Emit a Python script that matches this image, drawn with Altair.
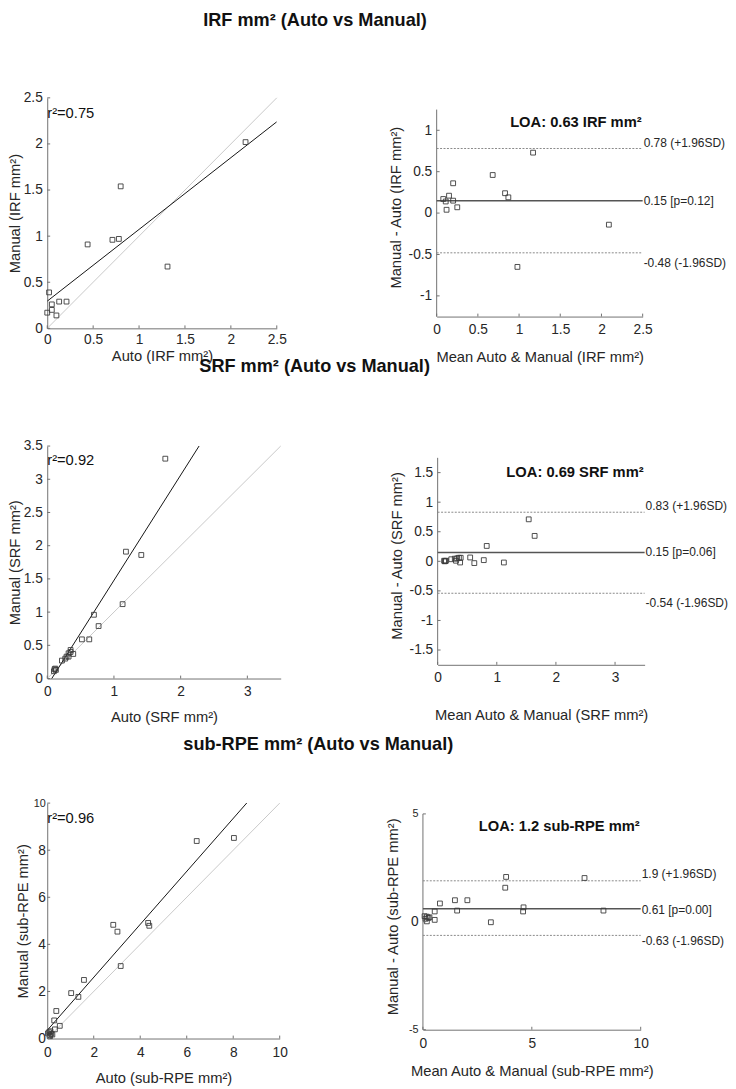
import altair as alt
import pandas as pd

FONT = "Liberation Sans"
TXT = "#262626"
AXC = "#707070"
PT = "#3a3a3a"

# ---------------- data ----------------
# IRF
irf_auto = [2.16, 0.80, 0.44, 0.71, 0.78, 1.31, 0.02, 0.05, 0.13, 0.21, 0.00, 0.05, 0.10]
irf_manual = [2.02, 1.54, 0.91, 0.96, 0.97, 0.67, 0.39, 0.26, 0.29, 0.29, 0.17, 0.20, 0.14]
irf_fit_x = [0.0, 2.5]
irf_fit_y = [0.295, 2.24]
irf_ba_mean = [1.17, 0.68, 0.20, 0.83, 0.87, 0.08, 0.15, 0.20, 0.11, 0.12, 0.25, 2.09, 0.98]
irf_ba_diff = [0.73, 0.46, 0.36, 0.24, 0.19, 0.17, 0.21, 0.15, 0.14, 0.04, 0.07, -0.14, -0.65]
irf_loa = [0.15, 0.78, -0.48]
irf_loa_text = ["0.15 [p=0.12]", "0.78 (+1.96SD)", "-0.48 (-1.96SD)"]

# SRF
srf_auto = [1.77, 1.18, 1.41, 1.13, 0.70, 0.77, 0.52, 0.63, 0.35, 0.39, 0.32, 0.29,
            0.32, 0.22, 0.27, 0.12, 0.13, 0.10, 0.11, 0.35]
srf_manual = [3.31, 1.91, 1.86, 1.12, 0.96, 0.79, 0.59, 0.59, 0.43, 0.37, 0.38, 0.33,
              0.33, 0.27, 0.30, 0.15, 0.13, 0.11, 0.14, 0.40]
srf_fit_x = [0.0, 3.5]
srf_fit_y = [-0.107, 5.44]
srf_ba_mean = [1.54, 1.64, 0.83, 0.55, 0.78, 0.62, 1.12, 0.39, 0.38, 0.23, 0.29, 0.33,
               0.36, 0.31, 0.11, 0.12, 0.14, 0.13]
srf_ba_diff = [0.71, 0.43, 0.26, 0.065, 0.02, -0.03, -0.02, 0.06, -0.02, 0.035, 0.045, 0.05,
               0.06, 0.01, 0.01, 0.0, 0.01, 0.005]
srf_loa = [0.15, 0.83, -0.54]
srf_loa_text = ["0.15 [p=0.06]", "0.83 (+1.96SD)", "-0.54 (-1.96SD)"]

# sub-RPE
rpe_auto = [8.03, 6.43, 4.34, 4.39, 2.84, 3.02, 3.16, 1.58, 1.03, 1.34, 0.39, 0.30, 0.54,
            0.33, 0.14, 0.03, 0.10, 0.17, 0.22, 0.08, 0.12]
rpe_manual = [8.52, 8.39, 4.91, 4.79, 4.83, 4.54, 3.08, 2.49, 1.93, 1.77, 1.17, 0.77, 0.54,
              0.39, 0.31, 0.22, 0.15, 0.20, 0.17, 0.27, 0.10]
rpe_fit_x = [0.0, 10.0]
rpe_fit_y = [0.35, 11.6]
rpe_ba_mean = [7.42, 3.82, 3.78, 1.47, 2.04, 0.78, 1.57, 0.54, 4.62, 4.60, 8.29, 3.12, 0.54,
               0.075, 0.18, 0.25, 0.12, 0.18, 0.30]
rpe_ba_diff = [2.03, 2.08, 1.58, 1.00, 1.00, 0.85, 0.52, 0.48, 0.67, 0.48, 0.52, -0.02, 0.09,
               0.26, 0.24, 0.18, 0.14, 0.02, 0.21]
rpe_loa = [0.61, 1.9, -0.63]
rpe_loa_text = ["0.61 [p=0.00]", "1.9 (+1.96SD)", "-0.63 (-1.96SD)"]

# axes ticks
irf_ticks = [0, 0.5, 1, 1.5, 2, 2.5]
irf_ba_yticks = [-1, -0.5, 0, 0.5, 1]
srf_xticks = [0, 1, 2, 3]
srf_yticks = [0, 0.5, 1, 1.5, 2, 2.5, 3, 3.5]
srf_ba_yticks = [-1.5, -1, -0.5, 0, 0.5, 1, 1.5]
rpe_ticks = [0, 2, 4, 6, 8, 10]
rpe_ba_xticks = [0, 5, 10]
rpe_ba_yticks = [-5, 0, 5]

TICK = 3


def make_axis(values, title, lp, tp, x_axis, small=None, domain=True):
    kw = dict(values=values, title=title, labelExpr="datum.value + ''", labelPadding=lp,
              titlePadding=tp, ticks=False, grid=False, labelOverlap=False, domain=domain,
              domainColor=AXC, domainWidth=1, labelFont=FONT, labelColor=TXT,
              titleFont=FONT, titleFontSize=15, titleFontWeight="normal", titleColor=TXT)
    if x_axis:
        kw["labelFlush"] = False
    if small is not None:
        kw["labelFontSize"] = {"condition": {"test": small, "value": 11}, "value": 14}
    else:
        kw["labelFontSize"] = 14
    return alt.Axis(**kw)


def tick_layers(X, Y, xt, yt, h):
    tx = alt.Chart(pd.DataFrame({"x": xt})).mark_rule(color=AXC, strokeWidth=1).encode(
        x=X, y=alt.value(h), y2=alt.value(h - TICK))
    ty = alt.Chart(pd.DataFrame({"y": yt})).mark_rule(color=AXC, strokeWidth=1).encode(
        y=Y, x=alt.value(0), x2=alt.value(TICK))
    return [tx, ty]


def left_panel(auto, manual, fit_x, fit_y, dom, xt, yt, xtitle, ytitle, r2, st):
    w, h = st["w"], st["h"]
    X = alt.X("x:Q", scale=alt.Scale(domain=dom, nice=False, zero=False),
              axis=make_axis(xt, xtitle, st["xlp"], st["xtp"], True))
    Y = alt.Y("y:Q", scale=alt.Scale(domain=dom, nice=False, zero=False),
              axis=make_axis(yt, ytitle, st["ylp"], st["ytp"], False, st.get("ysmall")))
    ident = alt.Chart(pd.DataFrame({"x": dom, "y": dom})).mark_line(
        color="#c8c8c8", strokeWidth=1).encode(x=X, y=Y)
    fit = alt.Chart(pd.DataFrame({"x": fit_x, "y": fit_y})).mark_line(
        color="#111111", strokeWidth=1, clip=True).encode(x=X, y=Y)
    pts = alt.Chart(pd.DataFrame({"x": auto, "y": manual})).mark_point(
        shape="square", size=24, filled=False, color=PT, strokeWidth=0.9, opacity=1).encode(x=X, y=Y)
    txt = alt.Chart(pd.DataFrame({"t": [r2]})).mark_text(
        align="left", baseline="middle", font=FONT, fontSize=15, color="#111111").encode(
        x=alt.value(0), y=alt.value(st["r2y"]), text="t:N")
    layers = [ident, fit, pts] + tick_layers(X, Y, xt, yt, h) + [txt]
    if st.get("bottom"):
        layers.append(alt.Chart(pd.DataFrame({"t": [0]})).mark_rule(opacity=0).encode(
            x=alt.value(0), y=alt.value(h), y2=alt.value(h + st["bottom"])))
    return alt.layer(*layers).properties(width=w, height=h)


def right_panel(mean, diff, loa, loa_text, loa_title, xdom, ydom, xt, yt, xtitle, ytitle, st):
    w, h = st["w"], st["h"]
    X = alt.X("x:Q", scale=alt.Scale(domain=xdom, nice=False, zero=False),
              axis=make_axis(xt, xtitle, st["xlp"], st["xtp"], True))
    # the y scale reaches a little above the drawn axis line (as in the reference)
    Y = alt.Y("y:Q", scale=alt.Scale(domain=[ydom[0], ydom[1] + st["ext"]], nice=False, zero=False),
              axis=make_axis(yt, ytitle, st["ylp"], st["ytp"], False, st.get("ysmall"), domain=False))
    yline = alt.Chart(pd.DataFrame({"y": [ydom[0]], "y2": [ydom[1]]})).mark_rule(
        color=AXC, strokeWidth=1).encode(y=Y, y2="y2:Q", x=alt.value(0))
    mline = alt.Chart(pd.DataFrame({"y": loa[:1]})).mark_rule(
        color="#555555", strokeWidth=1.5).encode(y=Y, x=alt.value(0), x2=alt.value(w))
    lims = alt.Chart(pd.DataFrame({"y": loa[1:]})).mark_rule(
        color="#888888", strokeWidth=1, strokeDash=[2, 1.5]).encode(y=Y, x=alt.value(0), x2=alt.value(w))
    pts = alt.Chart(pd.DataFrame({"x": mean, "y": diff})).mark_point(
        shape="square", size=24, filled=False, color=PT, strokeWidth=0.9, opacity=1).encode(x=X, y=Y)
    anns = []
    for i in range(3):
        anns.append(alt.Chart(pd.DataFrame({"y": [loa[i]], "t": [loa_text[i]]})).mark_text(
            align="left", baseline="middle", font=FONT, fontSize=12.2, color=TXT,
            dx=1, dy=st["ann_dy"][i]).encode(x=alt.value(w), y=Y, text="t:N"))
    ttl = alt.Chart(pd.DataFrame({"t": [loa_title]})).mark_text(
        align="right", baseline="middle", font=FONT, fontSize=15, fontWeight="bold",
        color="#111111").encode(x=alt.value(w - 1), y=alt.value(st["ty"]), text="t:N")
    layers = [yline, mline, lims, pts] + tick_layers(X, Y, xt, yt, h) + anns + [ttl]
    return alt.layer(*layers).properties(width=w, height=h)


def row(left, right, title, sp, toff, dx):
    return alt.hconcat(left, right, spacing=sp,
                       title=alt.TitleParams(title, fontSize=18.5, fontWeight="bold", font=FONT,
                                             color="#111111", anchor="start", offset=toff, dx=dx))


L1 = dict(w=234, h=235, xlp=4, xtp=3, ylp=5, ytp=0.5, r2y=16)
R1 = dict(w=210, h=223, ext=0.142, xlp=6, xtp=14, ylp=5, ytp=5, ty=25, ann_dy=[0, -6, 10])
L2 = dict(w=238, h=237, xlp=6, xtp=12, ylp=5, ytp=0.5, r2y=14, bottom=66)
R2 = dict(w=211, h=223, ext=0.199, xlp=6, xtp=24, ylp=5, ytp=5, ty=27, ann_dy=[0, -6, 10])
L3 = dict(w=237, h=240, xlp=7, xtp=12, ylp=2, ytp=3, r2y=15, ysmall="datum.value == 10")
R3 = dict(w=222, h=231, ext=0.5, xlp=7, xtp=14, ylp=5, ytp=8, ty=23, ann_dy=[1, -7, 6],
          ysmall="abs(datum.value) == 5")

row1 = row(
    left_panel(irf_auto, irf_manual, irf_fit_x, irf_fit_y, [0, 2.5], irf_ticks, irf_ticks,
               "Auto (IRF mm²)", "Manual (IRF mm²)", "r²=0.75", L1),
    right_panel(irf_ba_mean, irf_ba_diff, irf_loa, irf_loa_text, "LOA: 0.63 IRF mm²",
                [0, 2.5], [-1.25, 1.25], irf_ticks, irf_ba_yticks,
                "Mean Auto & Manual (IRF mm²)", "Manual - Auto (IRF mm²)", R1),
    "IRF mm² (Auto vs Manual)", 103, 63, 199)

row2 = row(
    left_panel(srf_auto, srf_manual, srf_fit_x, srf_fit_y, [0, 3.5], srf_xticks, srf_yticks,
               "Auto (SRF mm²)", "Manual (SRF mm²)", "r²=0.92", L2),
    right_panel(srf_ba_mean, srf_ba_diff, srf_loa, srf_loa_text, "LOA: 0.69 SRF mm²",
                [0, 3.5], [-1.75, 1.75], srf_xticks, srf_ba_yticks,
                "Mean Auto & Manual (SRF mm²)", "Manual - Auto (SRF mm²)", R2),
    "SRF mm² (Auto vs Manual)", 108, 65, 195)

row3 = row(
    left_panel(rpe_auto, rpe_manual, rpe_fit_x, rpe_fit_y, [0, 10], rpe_ticks, rpe_ticks,
               "Auto (sub-RPE mm²)", "Manual (sub-RPE mm²)", "r²=0.96", L3),
    right_panel(rpe_ba_mean, rpe_ba_diff, rpe_loa, rpe_loa_text, "LOA: 1.2 sub-RPE mm²",
                [0, 10], [-5, 5], rpe_ba_xticks, rpe_ba_yticks,
                "Mean Auto & Manual (sub-RPE mm²)", "Manual - Auto (sub-RPE mm²)", R3),
    "sub-RPE mm² (Auto vs Manual)", 100, 44.5, 171)

chart = alt.vconcat(row1, row2, row3, spacing=-8).properties(
    padding={"left": 0, "top": -8, "right": 0, "bottom": 0}
).configure_view(stroke=None)

chart.save("out.html", embed_options={"renderer": "svg", "actions": False})
